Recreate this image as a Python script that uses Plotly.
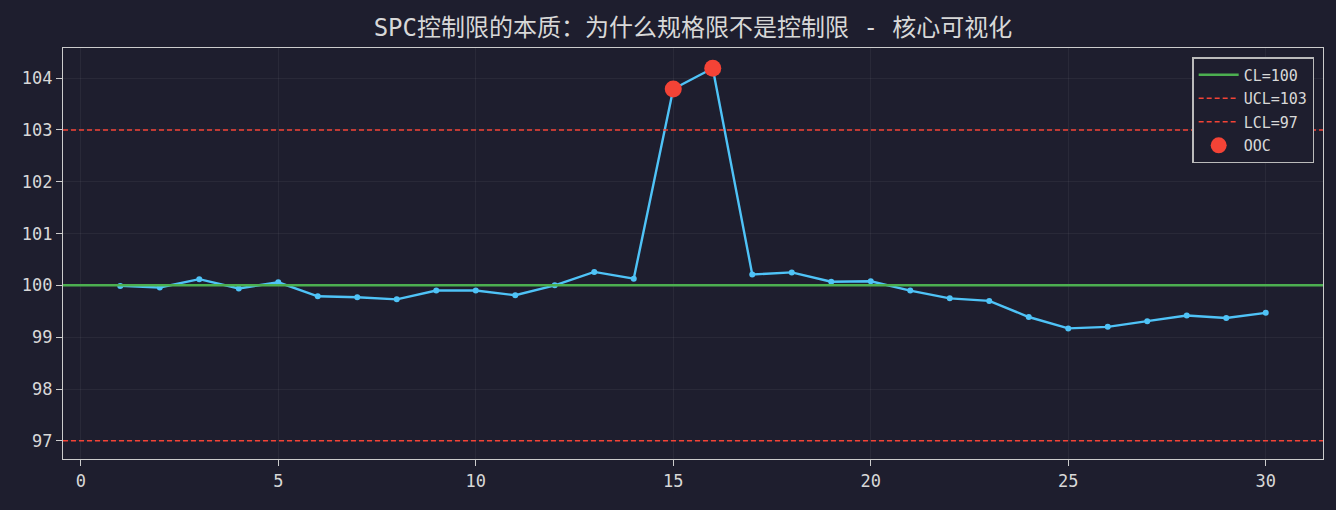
import plotly.graph_objects as go

# sample index and measured values
samples = list(range(1, 31))
values = [99.99, 99.96, 100.12, 99.94, 100.06, 99.79, 99.77, 99.73, 99.90, 99.90,
          99.81, 100.00, 100.26, 100.13, 103.79, 104.19, 100.21, 100.25, 100.07, 100.08,
          99.90, 99.75, 99.70, 99.39, 99.17, 99.20, 99.31, 99.42, 99.37, 99.47]

cl, ucl, lcl = 100, 103, 97
ooc_x = [15, 16]
ooc_y = [103.79, 104.19]

x_line = [-0.45, 31.45]

BG = "#1e1e2e"
FG = "#d8d8d8"
FONT = "DejaVu Sans Mono, Noto Sans Mono CJK SC, Noto Sans CJK SC"

fig = go.Figure()

fig.add_trace(go.Scatter(
    x=samples, y=values, mode="lines+markers",
    line=dict(color="#4fc3f7", width=2.4),
    marker=dict(size=6, color="#4fc3f7"),
    showlegend=False, name="data"
))
fig.add_trace(go.Scatter(
    x=x_line, y=[cl, cl], mode="lines", legendgroup="cl",
    line=dict(color="#4caf50", width=2.5), name=f"CL={cl}"
))
fig.add_trace(go.Scatter(
    x=x_line, y=[ucl, ucl], mode="lines", legendgroup="ucl",
    line=dict(color="#f44336", width=1.5, dash="5px,3px"), name=f"UCL={ucl}"
))
fig.add_trace(go.Scatter(
    x=x_line, y=[lcl, lcl], mode="lines", legendgroup="lcl",
    line=dict(color="#f44336", width=1.5, dash="5px,3px"), name=f"LCL={lcl}"
))
fig.add_trace(go.Scatter(
    x=ooc_x, y=ooc_y, mode="markers", legendgroup="ooc",
    marker=dict(size=17, color="#f44336"), name="OOC"
))

axis_common = dict(
    showline=True, linecolor="#cccccc", linewidth=1.2, mirror=True,
    showgrid=True, gridcolor="rgba(255,255,255,0.05)", gridwidth=1,
    zeroline=False, ticks="outside", ticklen=6, tickcolor="#cccccc",
    tickfont=dict(size=17, color=FG, family=FONT),
)

fig.update_layout(
    width=1336, height=510,
    paper_bgcolor=BG, plot_bgcolor=BG,
    margin=dict(l=63, r=13, t=48, b=51),
    title=dict(text="SPC控制限的本质：为什么规格限不是控制限 - 核心可视化",
               x=0.5, xref="paper", y=0.945, yanchor="middle",
               font=dict(size=24, color=FG, family=FONT)),
    xaxis=dict(range=[-0.45, 31.45], tickvals=[0, 5, 10, 15, 20, 25, 30], **axis_common),
    yaxis=dict(range=[96.65, 104.58], tickvals=[97, 98, 99, 100, 101, 102, 103, 104], **axis_common),
    legend=dict(x=0.993, y=0.978, xanchor="right", yanchor="top",
                bgcolor=BG, bordercolor="#bbbbbb", borderwidth=1.5,
                font=dict(size=15, color=FG, family=FONT),
                itemwidth=40, tracegroupgap=1),
    showlegend=True,
)

fig.write_html("out.html", config={"displayModeBar": False},
               post_script="document.body.style.margin='0';")
